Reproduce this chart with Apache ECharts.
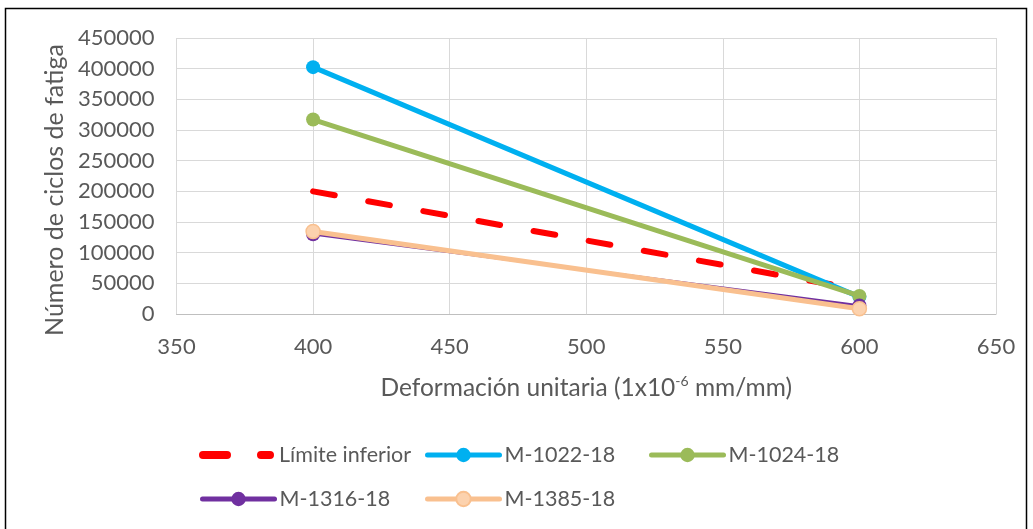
<!DOCTYPE html>
<html>
<head>
<meta charset="utf-8">
<style>
  html, body { margin: 0; padding: 0; background: #fff; }
  #chart { width: 1033px; height: 529px; }
</style>
<script src="https://cdn.jsdelivr.net/npm/echarts@6/dist/echarts.min.js"></script>
</head>
<body>
<div id="chart"></div>
<script>
// Strain levels (x) and fatigue cycles (y) per mixture
const strain = [400, 600];
const limiteInferior = [200000, 40000];
const m1022 = [402500, 28000];
const m1024 = [317000, 29500];
const m1316 = [130000, 14000];
const m1385 = [134500, 8500];

const seriesNames = ['Límite inferior', 'M-1022-18', 'M-1024-18', 'M-1316-18', 'M-1385-18'];
const seriesValues = [limiteInferior, m1022, m1024, m1316, m1385];

const FONT = 'Lato, "Open Sans", sans-serif';
const TEXT = '#595959';

const styles = [
  { color: '#FF0000', width: 6, dashed: true },
  { color: '#00B0F0', width: 5 },
  { color: '#9BBB59', width: 5 },
  { color: '#7030A0', width: 2.5 },
  { color: '#F9C08F', width: 5, fill: '#FCD2AE' }
];

const series = seriesNames.map((name, i) => {
  const st = styles[i];
  return {
    name: name,
    type: 'line',
    data: strain.map((x, k) => [x, seriesValues[i][k]]),
    showSymbol: !st.dashed,
    symbol: st.dashed ? 'none' : 'circle',
    symbolSize: 14,
    z: 2 + i,
    lineStyle: {
      color: st.color,
      width: st.width,
      type: st.dashed ? [22, 34] : 'solid',
      cap: 'round'
    },
    itemStyle: {
      color: st.fill || st.color,
      borderColor: st.color,
      borderWidth: st.fill ? 1.5 : 0
    },
    emphasis: { disabled: true },
    animation: false
  };
});

// dashed swatch for the lower-limit entry: two rounded dashes
const dashIcon = 'path://M4,0 H28 A4,4 0 0 1 28,8 H4 A4,4 0 0 1 4,0 Z M62,0 H71 A4,4 0 0 1 71,8 H62 A4,4 0 0 1 62,0 Z';

// one legend block per entry, laid out in two rows
const legendPos = [
  [199, 444], [425, 444], [649, 444],
  [200, 488], [425, 488]
];
const legends = seriesNames.map((name, i) => {
  const st = styles[i];
  const lg = {
    data: [name],
    left: legendPos[i][0],
    top: legendPos[i][1],
    padding: 0,
    itemWidth: st.dashed ? 75 : 72,
    itemHeight: st.dashed ? 8 : 18,
    itemGap: 6,
    selectedMode: false,
    lineStyle: { width: 5, cap: 'round' },
    textStyle: { fontFamily: FONT, fontSize: 21.5, color: TEXT }
  };
  if (st.dashed) {
    lg.icon = dashIcon;
  }
  return lg;
});

const chart = echarts.init(document.getElementById('chart'), null, { renderer: 'canvas' });
chart.setOption({
  backgroundColor: '#fff',
  animation: false,
  grid: { left: 176.5, right: 37, top: 38, bottom: 215, containLabel: false },
  legend: legends,
  graphic: [{
    type: 'rect',
    shape: { x: 5.5, y: 8.5, width: 1021, height: 530 },
    style: { fill: 'none', stroke: '#000', lineWidth: 1.5 },
    silent: true,
    z: -1
  }],
  xAxis: {
    type: 'value',
    min: 350, max: 650, interval: 50,
    axisLine: { show: true, lineStyle: { color: '#BFBFBF', width: 1 } },
    axisTick: { show: false },
    splitLine: { show: true, lineStyle: { color: '#D9D9D9', width: 1 } },
    axisLabel: { fontFamily: FONT, fontSize: 22, color: TEXT, margin: 22 },
    name: '{a|Deformación unitaria (1x10}{s|-6}{a| mm/mm)}',
    nameLocation: 'middle',
    nameGap: 60,
    nameTextStyle: {
      rich: {
        a: { fontFamily: FONT, fontSize: 24.5, color: TEXT, lineHeight: 28 },
        s: { fontFamily: FONT, fontSize: 14, color: TEXT, verticalAlign: 'top', lineHeight: 28, padding: [0, 0, 10, 0] }
      }
    }
  },
  yAxis: {
    type: 'value',
    min: 0, max: 450000, interval: 50000,
    axisLine: { show: false },
    axisTick: { show: false },
    splitLine: { show: true, lineStyle: { color: '#D9D9D9', width: 1 } },
    axisLabel: {
      fontFamily: FONT, fontSize: 22, color: TEXT, margin: 22,
      formatter: (v) => String(v)
    },
    name: 'Número de ciclos de fatiga',
    nameLocation: 'middle',
    nameGap: 91,
    nameTextStyle: { fontFamily: FONT, fontSize: 25, color: TEXT, padding: [0, 28, 0, 0] }
  },
  series: series
});
</script>
</body>
</html>
